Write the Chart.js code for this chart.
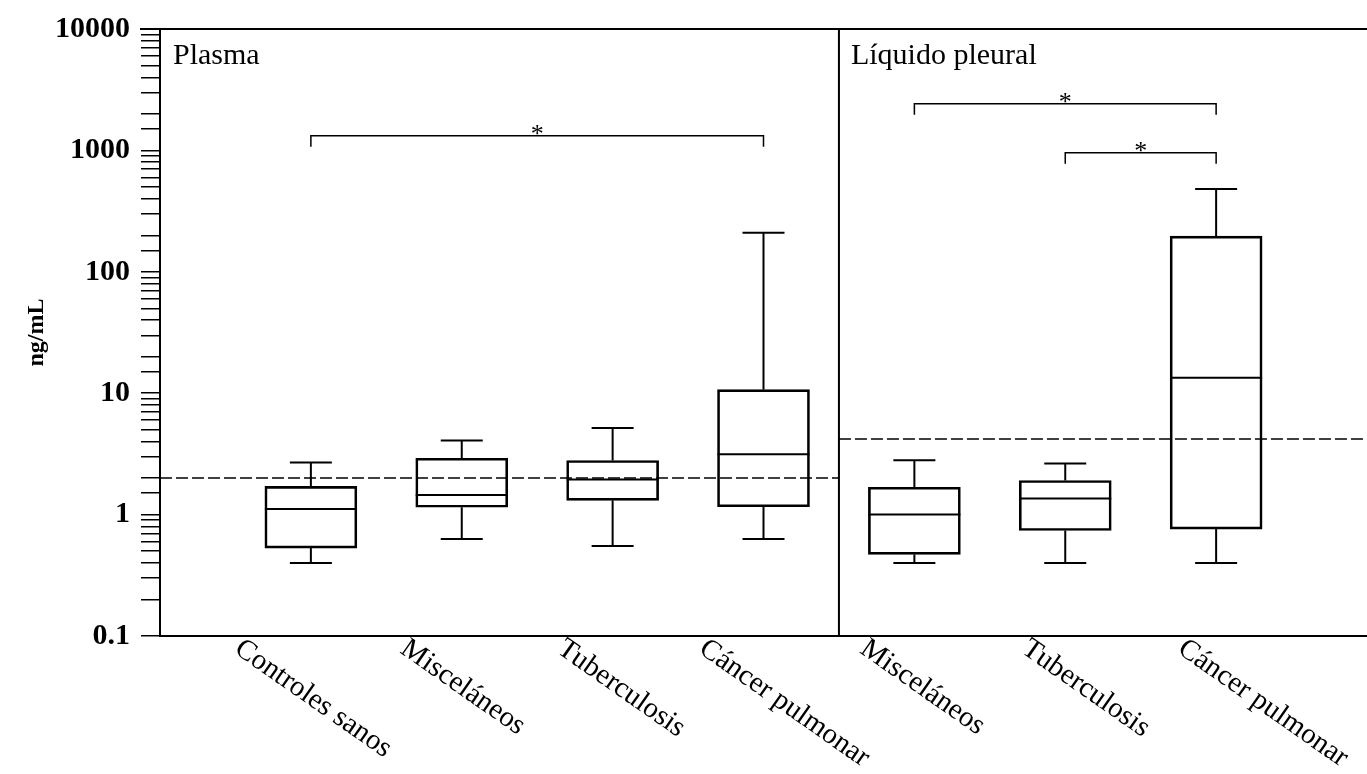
<!DOCTYPE html>
<html>
<head>
<meta charset="utf-8">
<script src="https://cdn.jsdelivr.net/npm/chart.js@4.4.0/dist/chart.umd.min.js"></script>
<style>
  html, body { margin: 0; padding: 0; background: #fff; }
</style>
</head>
<body>
<canvas id="boxChart" width="1367" height="774"></canvas>
<script>
// groups (x positions 1..7), two panels split at 4.5
const groups = ['Controles sanos', 'Misceláneos', 'Tuberculosis', 'Cáncer pulmonar',
                'Misceláneos', 'Tuberculosis', 'Cáncer pulmonar'];
const panelTitles = ['Plasma', 'Líquido pleural'];

// box plot values, ng/mL
const whiskerLow  = [0.40, 0.63, 0.55, 0.63, 0.40, 0.40, 0.40];
const q1          = [0.53, 1.15, 1.31, 1.16, 0.47, 0.74, 0.76];
const median      = [1.11, 1.45, 1.95, 3.14, 1.00, 1.36, 13.4];
const q3          = [1.71, 2.91, 2.79, 10.7, 1.68, 1.91, 197];
const whiskerHigh = [2.68, 4.07, 5.16, 210,  2.80, 2.63, 481];

// dashed cut-off line per panel
const cutoffs = [2.0, 4.2];

// significance brackets (group index from/to, height in ng/mL)
const bracketFrom  = [0, 4, 5];
const bracketTo    = [3, 6, 6];
const bracketLevel = [1318, 2417, 957];

const yTicks = [0.1, 1, 10, 100, 1000, 10000];

// label layout (px shift of each rotated label from its group centre)
const labelShift = [-73, -58, -52, -61, -51, -40, -35];

const SERIF = '"Liberation Serif", "Times New Roman", serif';
const split = 4.5;
const xMax = groups.length + 1;

const boxData = groups.map((g, i) => ({ x: i + 1, y: [q1[i], q3[i]] }));

const boxPlugin = {
  id: 'boxExtras',
  afterDatasetsDraw(chart) {
    const { ctx, chartArea: a, scales: { x, y } } = chart;
    ctx.save();
    ctx.strokeStyle = '#000';
    ctx.fillStyle = '#000';
    ctx.lineCap = 'butt';

    // whiskers, caps, medians
    ctx.lineWidth = 2;
    groups.forEach((g, i) => {
      const cx = x.getPixelForValue(i + 1);
      const line = (x1, y1, x2, y2) => {
        ctx.beginPath(); ctx.moveTo(x1, y1); ctx.lineTo(x2, y2); ctx.stroke();
      };
      line(cx, y.getPixelForValue(whiskerLow[i]), cx, y.getPixelForValue(q1[i]));
      line(cx, y.getPixelForValue(q3[i]), cx, y.getPixelForValue(whiskerHigh[i]));
      line(cx - 21, y.getPixelForValue(whiskerLow[i]), cx + 21, y.getPixelForValue(whiskerLow[i]));
      line(cx - 21, y.getPixelForValue(whiskerHigh[i]), cx + 21, y.getPixelForValue(whiskerHigh[i]));
      line(cx - 46, y.getPixelForValue(median[i]), cx + 46, y.getPixelForValue(median[i]));
    });

    // panel divider and top frame
    const dx = x.getPixelForValue(split);
    ctx.beginPath();
    ctx.moveTo(dx, a.top); ctx.lineTo(dx, a.bottom);
    ctx.moveTo(a.left - 20, a.top); ctx.lineTo(a.right, a.top);
    ctx.stroke();

    // brackets
    ctx.lineWidth = 1.5;
    ctx.font = '26px ' + SERIF;
    ctx.textAlign = 'center';
    ctx.textBaseline = 'alphabetic';
    bracketLevel.forEach((lv, k) => {
      const x1 = x.getPixelForValue(bracketFrom[k] + 1);
      const x2 = x.getPixelForValue(bracketTo[k] + 1);
      const by = y.getPixelForValue(lv);
      ctx.beginPath();
      ctx.moveTo(x1, by + 11); ctx.lineTo(x1, by); ctx.lineTo(x2, by); ctx.lineTo(x2, by + 11);
      ctx.stroke();
      ctx.fillText('*', (x1 + x2) / 2, by + 6);
    });

    // panel titles
    ctx.font = '30px ' + SERIF;
    ctx.textAlign = 'left';
    ctx.fillText(panelTitles[0], a.left + 13, 64);
    ctx.fillText(panelTitles[1], dx + 12, 64);

    // rotated category labels
    ctx.font = '29px ' + SERIF;
    ctx.textBaseline = 'top';
    groups.forEach((g, i) => {
      const lx = x.getPixelForValue(i + 1) + labelShift[i] + 8;
      ctx.save();
      ctx.translate(lx, a.bottom - 2);
      ctx.rotate(35 * Math.PI / 180);
      ctx.fillText(g, 0, 0);
      ctx.restore();
    });
    ctx.restore();
  }
};

new Chart(document.getElementById('boxChart'), {
  type: 'bar',
  data: {
    datasets: [
      {
        type: 'bar',
        data: boxData,
        backgroundColor: 'rgba(0,0,0,0)',
        borderColor: '#000',
        borderWidth: 2,
        borderSkipped: false,
        barThickness: 92
      },
      {
        type: 'line',
        data: [{ x: 0, y: cutoffs[0] }, { x: split, y: cutoffs[0] }],
        borderColor: '#000',
        borderWidth: 1.5,
        borderDash: [12, 4],
        pointRadius: 0
      },
      {
        type: 'line',
        data: [{ x: split, y: cutoffs[1] }, { x: xMax, y: cutoffs[1] }],
        borderColor: '#000',
        borderWidth: 1.5,
        borderDash: [12, 4],
        pointRadius: 0
      }
    ]
  },
  options: {
    responsive: false,
    animation: false,
    layout: { padding: { top: 28, right: 0, left: 0, bottom: 0 } },
    plugins: { legend: { display: false }, tooltip: { enabled: false } },
    scales: {
      x: {
        type: 'linear',
        min: 0,
        max: xMax,
        offset: false,
        ticks: { display: false },
        grid: { display: false },
        border: { display: true, color: '#000', width: 2 },
        afterFit: (s) => { s.height = 138; }
      },
      y: {
        type: 'logarithmic',
        min: yTicks[0],
        max: yTicks[yTicks.length - 1],
        ticks: {
          color: '#000',
          padding: 11,
          autoSkip: false,
          font: { family: SERIF, size: 30, weight: 'bold' },
          callback: (v) => {
            const t = yTicks.find(k => Math.abs(Math.log10(k) - Math.log10(v)) < 1e-6);
            return t === undefined ? '' : String(t);
          }
        },
        grid: { drawOnChartArea: false, drawTicks: true, tickLength: 19, color: '#000', lineWidth: 1.5 },
        border: { display: true, color: '#000', width: 2 },
        title: {
          display: true,
          text: 'ng/mL',
          color: '#000',
          font: { family: SERIF, size: 24, weight: 'bold' },
          padding: { top: 22, bottom: 0 }
        },
        afterFit: (s) => { s.width = 160; }
      }
    }
  },
  plugins: [boxPlugin]
});
</script>
</body>
</html>
